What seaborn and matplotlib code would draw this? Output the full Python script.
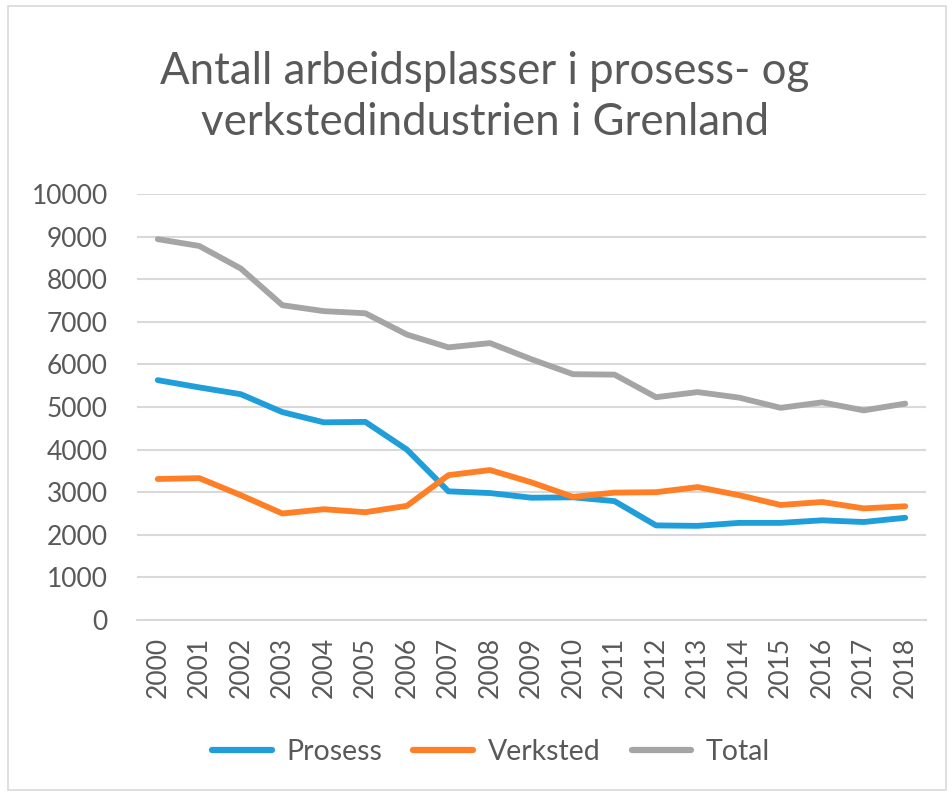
import matplotlib
matplotlib.use('Agg')
import matplotlib.pyplot as plt
import matplotlib.patches as mpatches
import pandas as pd
import seaborn as sns

years = [str(y) for y in range(2000, 2019)]
prosess = [5630, 5460, 5300, 4880, 4640, 4650, 4000, 3020, 2980, 2870, 2880, 2790,
           2220, 2210, 2280, 2280, 2340, 2300, 2400]
verksted = [3310, 3330, 2930, 2500, 2600, 2530, 2680, 3400, 3520, 3230, 2890, 2990,
            3000, 3120, 2930, 2700, 2770, 2620, 2670]
total = [8940, 8780, 8250, 7390, 7250, 7200, 6700, 6400, 6500, 6120, 5770, 5760,
         5230, 5350, 5220, 4980, 5110, 4920, 5080]
series_names = ["Prosess", "Verksted", "Total"]
title = "Antall arbeidsplasser i prosess- og\nverkstedindustrien i Grenland"

df = pd.DataFrame({"År": years * 3,
                   "Antall": prosess + verksted + total,
                   "Serie": [s for s in series_names for _ in years]})

sns.set_theme(style="white")
plt.rcParams['font.family'] = ['Lato', 'DejaVu Sans']
text_col = "#595959"
palette = {"Prosess": "#1F9ED9", "Verksted": "#FF7F27", "Total": "#A5A5A5"}

fig = plt.figure(figsize=(9.52, 7.96), dpi=100)
ax = fig.add_axes([137/952, 1 - 620/796, (926-137)/952, (620-194)/796])

sns.lineplot(data=df, x="År", y="Antall", hue="Serie", palette=palette,
             linewidth=4.2, ax=ax, sort=False, legend=False)
for line in ax.lines:
    line.set_solid_capstyle('round')
    line.set_solid_joinstyle('round')

ax.set_xlim(-0.5, len(years) - 0.5)
ax.set_ylim(0, 10000)
ax.set_yticks(range(0, 10001, 1000))
ax.yaxis.grid(True, color="#D9D9D9", linewidth=1.5)
ax.set_axisbelow(True)
for s in ["left", "right", "top"]:
    ax.spines[s].set_visible(False)
ax.spines["bottom"].set_color("#D9D9D9")
ax.spines["bottom"].set_linewidth(1.5)
ax.set_xlabel("")
ax.set_ylabel("")
ax.tick_params(axis="x", labelrotation=90, labelsize=19, colors=text_col, length=0, pad=12)
ax.tick_params(axis="y", labelsize=19, colors=text_col, length=0, pad=21)

fig.text(485/952, 1 - 97/796, title, ha="center", va="center", fontsize=31.5,
         color=text_col, fontweight="normal", linespacing=1.3)

handles = [plt.Line2D([0], [0], color=palette[s], linewidth=4.5, solid_capstyle='round')
           for s in series_names]
fig.legend(handles, series_names, loc="center", bbox_to_anchor=(491/952, 1 - 752/796),
           ncol=3, frameon=False, fontsize=20.5, labelcolor=text_col,
           handlelength=2.1, handletextpad=0.5, columnspacing=1.1)

fig.patches.append(mpatches.Rectangle((8/952, 6/796), 938/952, 784/796, transform=fig.transFigure,
                                      fill=False, edgecolor="#D9D9D9", linewidth=1.2))

fig.savefig("out.png", dpi=100, facecolor="white")
